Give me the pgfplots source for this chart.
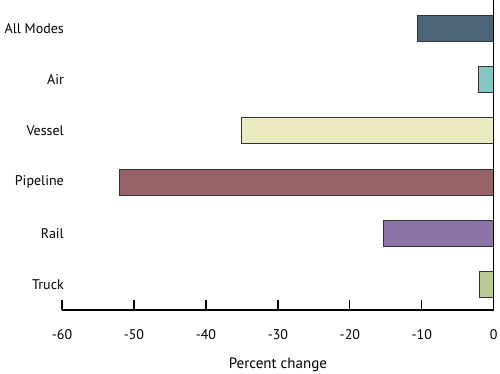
\documentclass[border=0pt]{standalone}
\usepackage{fontspec}
\setmainfont{PT Sans}
\usepackage{pgfplots}
\pgfplotsset{compat=1.18}
\definecolor{cAll}{HTML}{4C6579}
\definecolor{cAir}{HTML}{84C6C4}
\definecolor{cVes}{HTML}{ECEBC0}
\definecolor{cPip}{HTML}{966466}
\definecolor{cRail}{HTML}{8C74A8}
\definecolor{cTruck}{HTML}{B7CC94}
\definecolor{edge}{HTML}{333333}
\begin{document}
\fontsize{15}{17}\selectfont
\begin{tikzpicture}[x=1pt,y=1pt]
\useasboundingbox (-62,-64) rectangle (438,310);
\begin{axis}[
  at={(0,0)}, anchor=south west,
  scale only axis, width=431.8pt, height=310pt,
  xmin=-60, xmax=0, ymin=-0.49, ymax=5.55,
  axis x line*=bottom, axis y line*=left,
  y axis line style={draw=none},
  x axis line style={line width=1.2pt, -},
  xtick={-60,-50,...,0},
  xticklabels={-60,-50,-40,-30,-20,-10,0},
  xtick style={line width=1.2pt, black},
  major tick length=10pt,
  tick align=inside,
  x tick label style={font=\fontsize{14}{16}\selectfont, anchor=center, yshift=-25pt},
  ytick={0,1,2,3,4,5},
  yticklabels={Truck,Rail,Pipeline,Vessel,Air,All Modes},
  ytick style={draw=none},
  y tick label style={font=\fontsize{14}{16}\selectfont, anchor=east, inner sep=0pt, xshift=12pt},
  xlabel={Percent change},
  xlabel style={font=\fontsize{15}{17}\selectfont, anchor=center, yshift=-20pt},
  xbar, bar width=26pt, bar shift=0pt,
  clip=false,
]
\addplot[fill=cTruck, draw=edge, line width=0.9pt] coordinates {(-2.0,0)};
\addplot[fill=cRail, draw=edge, line width=0.9pt] coordinates {(-15.3,1)};
\addplot[fill=cPip, draw=edge, line width=0.9pt] coordinates {(-52.0,2)};
\addplot[fill=cVes, draw=edge, line width=0.9pt] coordinates {(-35.1,3)};
\addplot[fill=cAir, draw=edge, line width=0.9pt] coordinates {(-2.1,4)};
\addplot[fill=cAll, draw=edge, line width=0.9pt] coordinates {(-10.6,5)};
\draw[line width=1.2pt, black] (axis cs:0,-0.49) -- (axis cs:0,5.55);
\end{axis}
\end{tikzpicture}
\end{document}
